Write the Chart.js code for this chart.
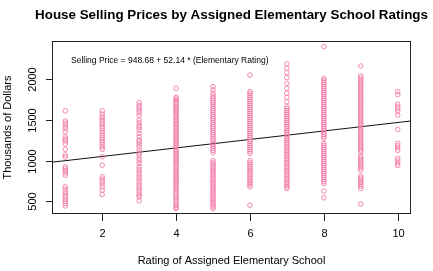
<!DOCTYPE html>
<html>
<head>
<meta charset="utf-8">
<script src="https://cdn.jsdelivr.net/npm/chart.js@4"></script>
<style>
  html, body { margin: 0; padding: 0; background: #fff; }
  #wrap { width: 433px; height: 271px; }
</style>
</head>
<body>
<div id="wrap"><canvas id="myChart" width="433" height="271"></canvas></div>
<script>
// selling prices (thousands of dollars) for each elementary rating
const prices1 = [1614, 1488, 1459, 1426, 1393, 1356, 1291, 1266, 1242, 1209, 1140, 1070, 1045,
  926, 901, 877, 852, 823, 680, 651, 618, 590, 562, 532, 504, 475, 446];
const prices2 = [1614, 1574, 1541, 1512, 1484, 1455, 1426, 1398, 1368, 1340, 1311, 1282, 1254,
  1226, 1196, 1168, 1140, 1049, 946, 803, 774, 746, 717, 680, 639, 586];
const prices3 = [1713, 1680, 1652, 1623, 1590, 1557, 1500, 1467, 1434, 1410, 1377, 1336, 1295,
  1254, 1234, 1205, 1172, 1131, 1098, 1070, 1029, 1000, 967, 926, 893, 860, 828, 795, 762, 729,
  696, 668, 639, 606, 578, 557, 508];
const prices4 = [1890, 1779, 1758, 1738, 1713, 1693, 1668, 1648, 1623, 1603, 1578, 1557, 1533,
  1508, 1488, 1463, 1443, 1418, 1393, 1373, 1348, 1324, 1303, 1279, 1254, 1234, 1209, 1184, 1164,
  1139, 1115, 1090, 1070, 1045, 1020, 1000, 975, 951, 926, 906, 881, 856, 836, 811, 787, 762, 742,
  717, 692, 668, 647, 623, 598, 573, 549, 524, 500, 475, 450, 426, 414];
const prices5 = [1910, 1869, 1828, 1795, 1767, 1742, 1717, 1693, 1668, 1644, 1619, 1594, 1570,
  1545, 1520, 1496, 1471, 1447, 1422, 1398, 1373, 1348, 1324, 1299, 1275, 1250, 1225, 1201, 1176,
  1152, 1127, 1102, 1000, 975, 951, 926, 901, 877, 852, 828, 803, 778, 754, 729, 705, 680, 655,
  631, 606, 582, 557, 532, 508, 483, 459, 434, 414];
const prices6 = [2053, 1849, 1828, 1803, 1779, 1754, 1730, 1705, 1680, 1656, 1631, 1607, 1582,
  1557, 1533, 1508, 1484, 1459, 1434, 1410, 1385, 1361, 1336, 1311, 1287, 1262, 1238, 1213, 1188,
  1164, 1139, 1115, 1090, 1000, 975, 951, 926, 901, 877, 852, 828, 803, 778, 754, 729, 705, 680, 454];
const prices7 = [2189, 2136, 2082, 2021, 1951, 1890, 1828, 1779, 1726, 1664, 1639, 1615, 1590,
  1566, 1541, 1516, 1492, 1467, 1443, 1418, 1393, 1369, 1344, 1320, 1295, 1270, 1246, 1221, 1197,
  1172, 1147, 1123, 1098, 1074, 1049, 1024, 1000, 975, 951, 926, 901, 877, 852, 828, 803, 778,
  754, 729, 705, 680, 660];
const prices8 = [2402, 2013, 1988, 1963, 1939, 1914, 1890, 1865, 1840, 1816, 1791, 1767, 1742,
  1717, 1693, 1668, 1644, 1619, 1594, 1570, 1545, 1520, 1496, 1471, 1447, 1422, 1398, 1373, 1348,
  1324, 1299, 1275, 1213, 1188, 1164, 1139, 1115, 1090, 1065, 1041, 1016, 992, 967, 942, 918,
  893, 869, 844, 819, 795, 770, 746, 721, 627, 545];
const prices9 = [2164, 2041, 2017, 1992, 1967, 1943, 1918, 1894, 1869, 1844, 1820, 1795, 1771,
  1746, 1721, 1697, 1672, 1648, 1623, 1598, 1574, 1549, 1525, 1500, 1475, 1451, 1426, 1402, 1377,
  1352, 1328, 1303, 1279, 1254, 1230, 1205, 1180, 1156, 1131, 1106, 1057, 1033, 1008, 983, 959,
  934, 910, 885, 811, 787, 762, 737, 713, 688, 660, 467];
const prices10 = [1849, 1812, 1697, 1668, 1640, 1611, 1562, 1385, 1213, 1184, 1156, 1127, 1029,
  1000, 971, 942];

const ratings = [1, 2, 3, 4, 5, 6, 7, 8, 9, 10];
const pricesByRating = [prices1, prices2, prices3, prices4, prices5, prices6, prices7, prices8, prices9, prices10];

// fitted line: price = intercept + slope * rating
const intercept = 948.68;
const slope = 52.14;

const xTicks = [2, 4, 6, 8, 10];
const yTicks = [500, 1000, 1500, 2000];
const xRange = [0.64, 10.36];
const yRange = [346, 2471];

const titleText = 'House Selling Prices by Assigned Elementary School Ratings';
const xTitle = 'Rating of Assigned Elementary School';
const yTitle = 'Thousands of Dollars';
const fitText = 'Selling Price = ' + intercept + ' + ' + slope + ' * (Elementary Rating)';

const points = [];
ratings.forEach(function (r, i) {
  pricesByRating[i].forEach(function (p) {
    points.push({ x: r, y: p });
  });
});

const fitLine = xRange.map(function (x) {
  return { x: x, y: intercept + slope * x };
});

const font = '"Liberation Sans", Arial, Helvetica, sans-serif';

// R style frame, axes and labels
const rAxes = {
  id: 'rAxes',
  afterDraw(chart) {
    const c = chart.ctx;
    const a = chart.chartArea;
    const xs = chart.scales.x;
    const ys = chart.scales.y;
    c.save();
    c.strokeStyle = '#222';
    c.fillStyle = '#000';
    c.lineWidth = 1;
    c.strokeRect(a.left + 0.5, a.top + 0.5, a.right - a.left - 1, a.bottom - a.top - 1);

    c.font = '11px ' + font;
    c.textAlign = 'center';
    c.textBaseline = 'middle';
    xTicks.forEach(function (t) {
      const px = Math.round(xs.getPixelForValue(t)) + 0.5;
      c.beginPath();
      c.moveTo(px, a.bottom);
      c.lineTo(px, a.bottom + 7);
      c.stroke();
      c.fillText(String(t), px, a.bottom + 20);
    });
    yTicks.forEach(function (t) {
      const py = Math.round(ys.getPixelForValue(t)) + 0.5;
      c.beginPath();
      c.moveTo(a.left, py);
      c.lineTo(a.left - 6, py);
      c.stroke();
      c.save();
      c.translate(33, py);
      c.rotate(-Math.PI / 2);
      c.fillText(String(t), 0, 0);
      c.restore();
    });

    c.fillText(xTitle, (a.left + a.right) / 2, 261);
    c.save();
    c.translate(8, (a.top + a.bottom) / 2);
    c.rotate(-Math.PI / 2);
    c.fillText(yTitle, 0, 0);
    c.restore();

    c.font = 'bold 13.4px ' + font;
    c.fillText(titleText, (a.left + a.right) / 2, 15);

    c.font = '8.5px ' + font;
    c.textAlign = 'left';
    c.fillText(fitText, 71, 61);
    c.restore();
  }
};

const ctx = document.getElementById('myChart').getContext('2d');
const myChart = new Chart(ctx, {
  type: 'scatter',
  data: {
    datasets: [
      {
        data: points,
        borderColor: 'rgb(242, 122, 168)',
        backgroundColor: 'rgba(0, 0, 0, 0)',
        borderWidth: 0.9,
        pointRadius: 2.3,
        pointHoverRadius: 2.3,
      },
      {
        data: fitLine,
        showLine: true,
        borderColor: '#111',
        borderWidth: 1,
        pointRadius: 0,
      },
    ],
  },
  options: {
    responsive: false,
    animation: false,
    devicePixelRatio: 1,
    layout: { padding: { left: 52, right: 22, top: 41, bottom: 57 } },
    plugins: { legend: { display: false }, tooltip: { enabled: false } },
    scales: {
      x: { type: 'linear', min: xRange[0], max: xRange[1], display: false },
      y: { type: 'linear', min: yRange[0], max: yRange[1], display: false },
    },
  },
  plugins: [rAxes],
});
</script>
</body>
</html>
